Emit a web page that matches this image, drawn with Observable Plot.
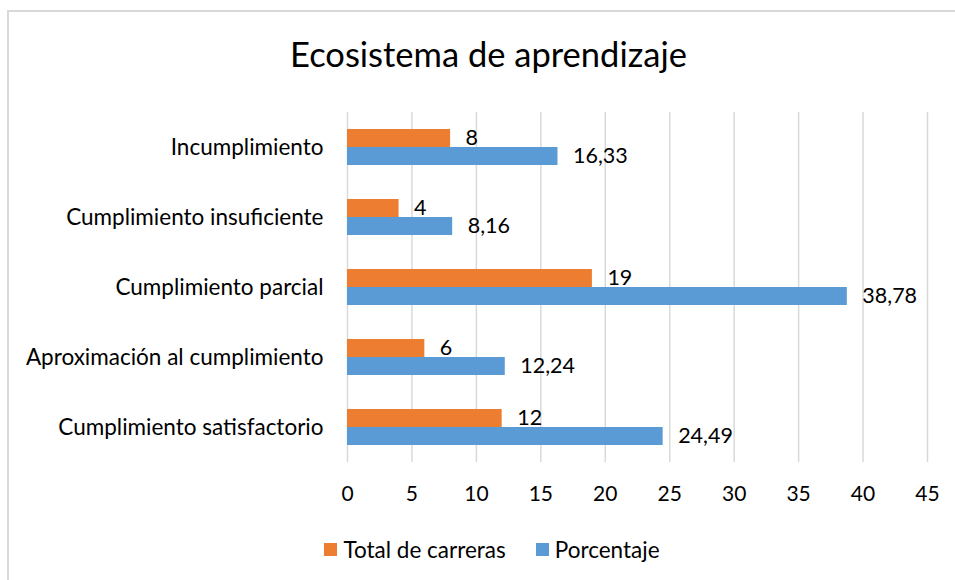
<!DOCTYPE html>
<html>
<head>
<meta charset="utf-8">
<script src="https://cdn.jsdelivr.net/npm/d3@7"></script>
<script src="https://cdn.jsdelivr.net/npm/@observablehq/plot@0.6"></script>
<style>
  html, body { margin: 0; padding: 0; background: #fff; overflow: hidden; }
  body { width: 955px; height: 580px; position: relative; font-family: Lato, "Open Sans", sans-serif; color: #000; }
  #frame { position: absolute; left: 7px; top: 10px; width: 980px; height: 620px; border: 2px solid #d9d9d9; box-sizing: border-box; pointer-events: none; }
  #wrap { position: absolute; left: 0; top: 0; width: 977px; }
  #title { height: 100px; box-sizing: border-box; padding-top: 33px; text-align: center; font-size: 34.5px; line-height: 1.2; }
  #legend { margin-top: 14px; text-align: center; font-size: 22.5px; line-height: 1.2; padding-left: 7px; }
  .key { display: inline-flex; align-items: center; margin: 0 15px; }
  .sw { display: inline-block; width: 13px; height: 13px; margin-right: 6px; }
</style>
</head>
<body>
<div id="frame"></div>
<div id="wrap">
  <div id="title">Ecosistema de aprendizaje</div>
  <div id="chart"></div>
  <div id="legend"></div>
</div>
<script>
const categories = ["Incumplimiento", "Cumplimiento insuficiente", "Cumplimiento parcial", "Aproximación al cumplimiento", "Cumplimiento satisfactorio"];
const series = ["Total de carreras", "Porcentaje"];
const totalCarreras = [8, 4, 19, 6, 12];
const porcentaje = [16.33, 8.16, 38.78, 12.24, 24.49];
const xTicks = [0, 5, 10, 15, 20, 25, 30, 35, 40, 45];
const colors = ["#ED7D31", "#5B9BD5"];

const rows = [];
categories.forEach((c, i) => {
  rows.push({category: c, series: series[0], value: totalCarreras[i], label: String(totalCarreras[i])});
  rows.push({category: c, series: series[1], value: porcentaje[i], label: porcentaje[i].toFixed(2).replace(".", ",")});
});

const chart = Plot.plot({
  width: 955,
  height: 420,
  marginTop: 10,
  marginBottom: 57,
  marginLeft: 347,
  marginRight: 28,
  style: {fontFamily: "Lato, 'Open Sans', sans-serif", fontSize: "22.5px", color: "#000", background: "transparent"},
  x: {domain: [0, 45]},
  y: {domain: series, paddingInner: 0, paddingOuter: 0.914, axis: null},
  fy: {domain: categories, padding: 0},
  color: {domain: series, range: colors},
  marks: [
    Plot.gridX(xTicks, {stroke: "#d9d9d9", strokeOpacity: 1, strokeWidth: 1.5}),
    Plot.barX(rows, {x: "value", y: "series", fy: "category", fill: "series"}),
    Plot.text(rows, {x: "value", y: "series", fy: "category", text: "label", dx: 15, textAnchor: "start", fill: "#000", fontSize: 21.5}),
    Plot.axisX({ticks: xTicks, tickSize: 0, tickPadding: 24, label: null, fill: "#000", fontSize: 21}),
    Plot.axisFy({anchor: "left", tickSize: 0, tickPadding: 24, label: null, fill: "#000"})
  ]
});
document.getElementById("chart").appendChild(chart);

const legend = document.getElementById("legend");
series.forEach((s, i) => {
  const k = document.createElement("span");
  k.className = "key";
  const sw = document.createElement("span");
  sw.className = "sw";
  sw.style.background = colors[i];
  k.appendChild(sw);
  k.appendChild(document.createTextNode(s));
  legend.appendChild(k);
});
</script>
</body>
</html>
